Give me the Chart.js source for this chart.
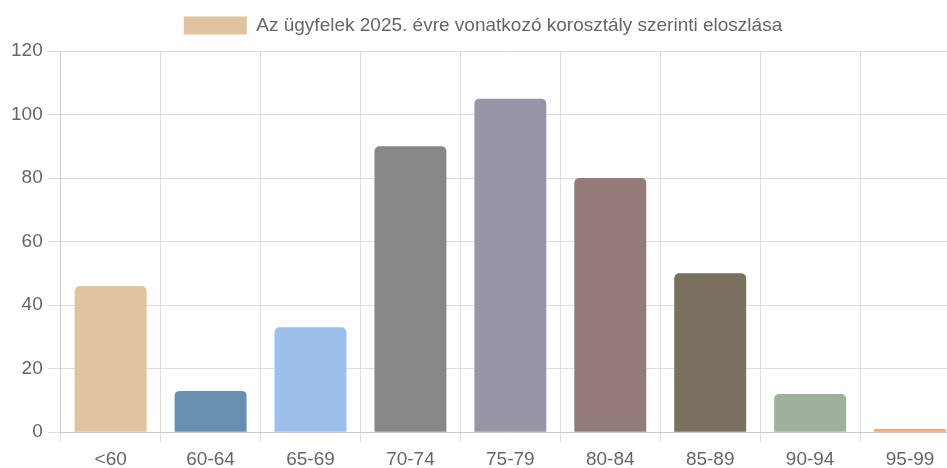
<!DOCTYPE html>
<html>
<head>
<meta charset="utf-8">
<script src="https://cdn.jsdelivr.net/npm/chart.js@4"></script>
<style>
  html, body { margin: 0; padding: 0; background: #fff; overflow: hidden; }
  #wrap { width: 962px; height: 477px; }
</style>
</head>
<body>
<div id="wrap"><canvas id="chart" width="962" height="477"></canvas></div>
<script>
let categories = ["<60", "60-64", "65-69", "70-74", "75-79", "80-84", "85-89", "90-94", "95-99"];
let counts = [46, 13, 33, 90, 105, 80, 50, 12, 1];
let barColors = ["#e0c4a0", "#668fb0", "#9dc0ea", "#878785", "#9995a4", "#927b78", "#797060", "#9eb29b", "#f2a67a"];
let seriesLabel = "Az ügyfelek 2025. évre vonatkozó korosztály szerinti eloszlása";

Chart.defaults.font.family = "'Liberation Sans', Arial, sans-serif";
Chart.defaults.color = "#666";

// a bit more room under the legend
let legendGap = {
  id: "legendGap",
  beforeInit(chart) {
    let origFit = chart.legend.fit;
    chart.legend.fit = function () {
      origFit.bind(chart.legend)();
      this.height += 6;
    };
  }
};

let ctx = document.getElementById("chart");
let chart = new Chart(ctx, {
  type: "bar",
  data: {
    labels: categories,
    datasets: [{
      label: seriesLabel,
      data: counts,
      backgroundColor: barColors,
      borderRadius: 5,
      borderSkipped: "bottom",
      categoryPercentage: 0.8,
      barPercentage: 0.9
    }]
  },
  options: {
    responsive: false,
    animation: false,
    layout: { padding: { left: 6, right: 2, top: 6, bottom: 0 } },
    plugins: {
      legend: {
        labels: {
          boxWidth: 63,
          boxHeight: 18,
          font: { size: 19 },
          color: "#666"
        }
      },
      tooltip: { enabled: false }
    },
    scales: {
      x: {
        grid: { color: "#dcdee3", tickLength: 10 },
        border: { color: "#c8cbd1" },
        ticks: { font: { size: 19 }, color: "#666", padding: 6 }
      },
      y: {
        min: 0,
        max: 120,
        grid: { color: "#dcdee3", tickLength: 13 },
        border: { color: "#c8cbd1" },
        ticks: { stepSize: 20, font: { size: 19 }, color: "#666", padding: 5 }
      }
    }
  },
  plugins: [legendGap]
});
</script>
</body>
</html>
